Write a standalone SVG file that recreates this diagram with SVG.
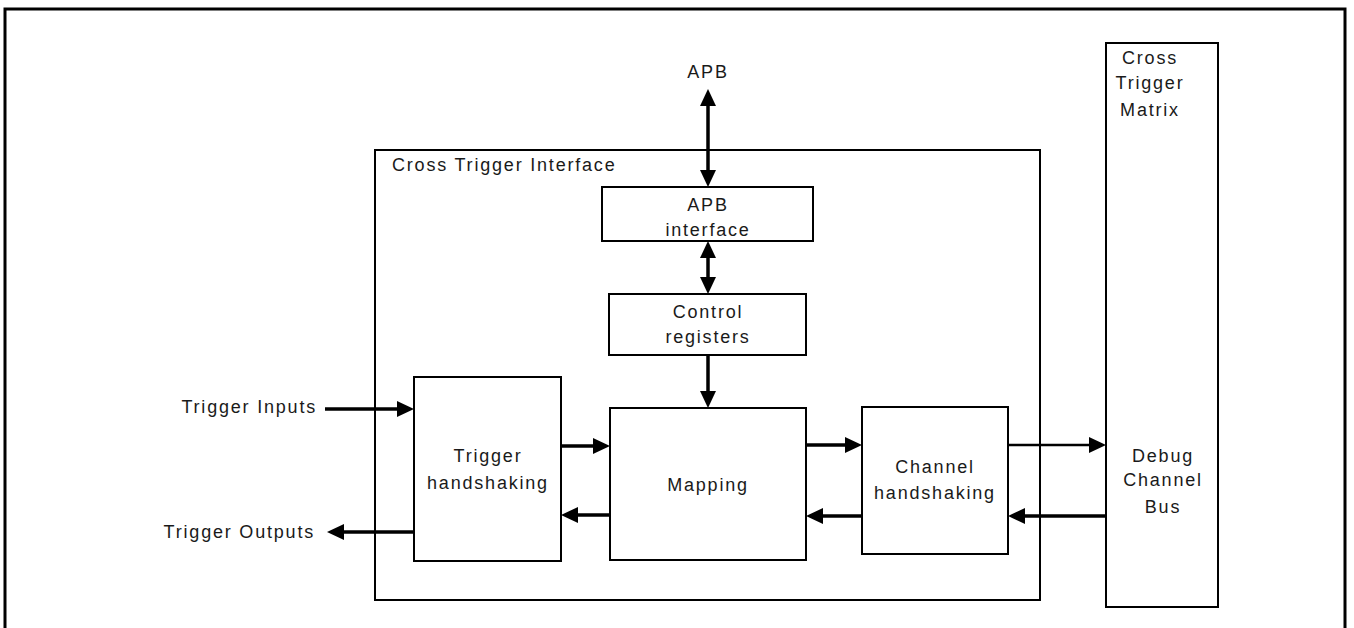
<svg xmlns="http://www.w3.org/2000/svg" width="1354" height="628" viewBox="0 0 1354 628">
<defs>
<style>
.box{fill:#fff;stroke:#000;stroke-width:2}
.frame{fill:none;stroke:#000;stroke-width:3}
.t{font-family:"Liberation Sans",Arial,sans-serif;font-size:18px;letter-spacing:1.8px;fill:#1a1a1a}
.c{text-anchor:middle}
.e{text-anchor:end}
.a{stroke:#000;stroke-width:3.5;fill:none;marker-end:url(#ah)}
.d{stroke:#000;stroke-width:3.5;fill:none;marker-end:url(#ah);marker-start:url(#ah)}
</style>
<marker id="ah" markerUnits="userSpaceOnUse" markerWidth="18" markerHeight="17" refX="11" refY="8" orient="auto-start-reverse">
<path d="M0,0 L17,8 L0,16 z" fill="#000"/>
</marker>
</defs>
<rect class="frame" x="5" y="9" width="1340" height="700"/>

<g id="cti">
<rect class="box" x="375" y="150" width="665" height="450" style="fill:none"/>
<text class="t" x="392" y="171">Cross Trigger Interface</text>
</g>

<g id="ctm">
<rect class="box" x="1106" y="43" width="112" height="564"/>
<text class="t c" x="1150" y="64">Cross</text>
<text class="t c" x="1150" y="89">Trigger</text>
<text class="t c" x="1150" y="116">Matrix</text>
<text class="t c" x="1163" y="462">Debug</text>
<text class="t c" x="1163" y="486">Channel</text>
<text class="t c" x="1163" y="513">Bus</text>
</g>

<g id="apb">
<text class="t c" x="708" y="78">APB</text>
</g>

<g id="apbif">
<rect class="box" x="602" y="187" width="211" height="54"/>
<text class="t c" x="708" y="211">APB</text>
<text class="t c" x="708" y="236">interface</text>
</g>

<g id="ctrl">
<rect class="box" x="609" y="294" width="197" height="61"/>
<text class="t c" x="708" y="318">Control</text>
<text class="t c" x="708" y="343">registers</text>
</g>

<g id="mapping">
<rect class="box" x="610" y="408" width="196" height="152"/>
<text class="t c" x="708" y="491">Mapping</text>
</g>

<g id="trighs">
<rect class="box" x="414" y="377" width="147" height="184"/>
<text class="t c" x="488" y="462">Trigger</text>
<text class="t c" x="488" y="489">handshaking</text>
</g>

<g id="chanhs">
<rect class="box" x="862" y="407" width="146" height="147"/>
<text class="t c" x="935" y="473">Channel</text>
<text class="t c" x="935" y="499">handshaking</text>
</g>

<g id="ext">
<text class="t e" x="317" y="413">Trigger Inputs</text>
<text class="t e" x="315" y="538">Trigger Outputs</text>
</g>

<g id="connectors">
<line class="d" x1="708" y1="95" x2="708" y2="181"/>
<line class="d" x1="708" y1="247" x2="708" y2="288"/>
<line class="a" x1="708" y1="355" x2="708" y2="402"/>
<line class="a" x1="325" y1="409" x2="408" y2="409"/>
<line class="a" x1="414" y1="532" x2="333" y2="532"/>
<line class="a" x1="561" y1="446" x2="604" y2="446"/>
<line class="a" x1="610" y1="515" x2="567" y2="515"/>
<line class="a" x1="806" y1="445" x2="856" y2="445"/>
<line class="a" x1="862" y1="516" x2="812" y2="516"/>
<line class="a" x1="1008" y1="445" x2="1100" y2="445" style="stroke-width:2.5"/>
<line class="a" x1="1106" y1="516" x2="1014" y2="516"/>
</g>
</svg>
